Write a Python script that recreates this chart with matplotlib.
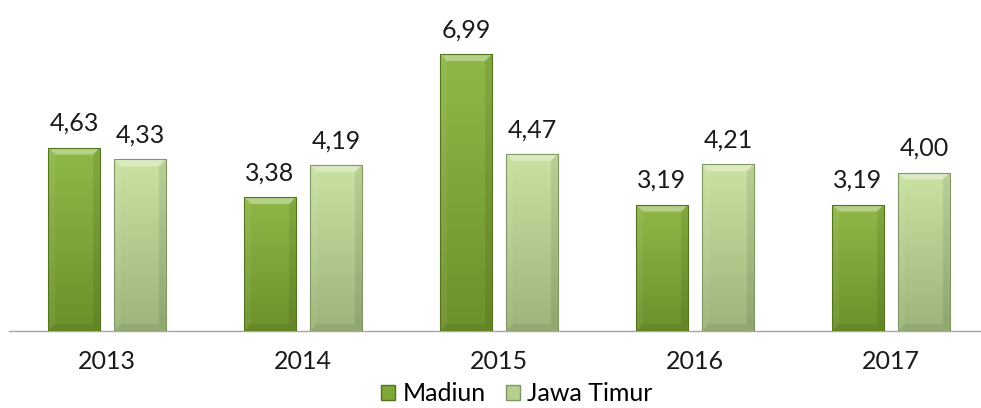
import matplotlib
matplotlib.use("Agg")
import matplotlib.pyplot as plt
import numpy as np
from matplotlib.patches import Polygon, Patch
from matplotlib.colors import LinearSegmentedColormap

years = ['2013', '2014', '2015', '2016', '2017']
madiun = [4.63, 3.38, 6.99, 3.19, 3.19]
jatim = [4.33, 4.19, 4.47, 4.21, 4.00]
labels = ['Madiun', 'Jawa Timur']

plt.rcParams['font.family'] = ['Lato', 'DejaVu Sans']
FS = 18

W, H = 981, 408
fig = plt.figure(figsize=(W / 100, H / 100), dpi=100)
ax = fig.add_axes([9 / W, 77 / H, 980 / W, 317 / H])
ax.set_xlim(-0.5, 4.5)
ax.set_ylim(0, 8.0)

x = np.arange(len(years))
bw = 0.265
off = 0.168

series = [
    (madiun, -off, ('#8fb848', '#6c902b'), '#55731f'),
    (jatim, off, ('#cae2a2', '#9cb47a'), '#7f9863'),
]

def to_data(px, py):
    return ax.transData.inverted().transform((px, py))

for vals, dx, (ctop, cbot), edge in series:
    bars = ax.bar(x + dx, vals, bw, color=cbot, edgecolor='none', zorder=2)
    cmap = LinearSegmentedColormap.from_list('g', [cbot, ctop])
    grad = np.linspace(0, 1, 256).reshape(-1, 1)
    for b, v in zip(bars, vals):
        x0, y0 = b.get_x(), b.get_y()
        x1, y1 = x0 + b.get_width(), y0 + b.get_height()
        im = ax.imshow(grad, extent=(x0, x1, y0, y1), origin='lower',
                       aspect='auto', cmap=cmap, zorder=3)
        im.set_clip_path(b)
        d0 = ax.transData.transform((x0, y0))
        d1 = ax.transData.transform((x1, y1))
        bp = 7
        p = lambda px, py: to_data(px, py)
        A = p(d0[0], d1[1]); B = p(d1[0], d1[1])
        C = p(d1[0] - bp, d1[1] - bp); D = p(d0[0] + bp, d1[1] - bp)
        E = p(d0[0], d0[1]); F = p(d1[0], d0[1])
        G = p(d1[0] - bp, d0[1] + bp); Hh = p(d0[0] + bp, d0[1] + bp)
        ax.add_patch(Polygon([A, B, C, D], closed=True, facecolor='white',
                             alpha=0.35, edgecolor='none', zorder=4))
        ax.add_patch(Polygon([A, D, Hh, E], closed=True, facecolor='white',
                             alpha=0.06, edgecolor='none', zorder=4))
        ax.add_patch(Polygon([B, C, G, F], closed=True, facecolor='black',
                             alpha=0.08, edgecolor='none', zorder=4))
        ax.add_patch(Polygon([E, Hh, G, F], closed=True, facecolor='black',
                             alpha=0.06, edgecolor='none', zorder=4))
        ax.add_patch(Polygon([E, A, B, F], closed=True, facecolor='none',
                             edgecolor=edge, linewidth=0.8, zorder=5))
        ax.annotate(f'{v:.2f}'.replace('.', ','), (b.get_x() + b.get_width() / 2, y1),
                    xytext=(0, 12), textcoords='offset points', ha='center',
                    va='baseline', fontsize=FS, color='#1a1a1a')

for s in ['top', 'right', 'left']:
    ax.spines[s].set_visible(False)
ax.spines['bottom'].set_color('#a6a6a6')
ax.spines['bottom'].set_linewidth(1.0)
ax.set_yticks([])
ax.set_xticks(x)
ax.set_xticklabels(years, fontsize=FS, color='#1a1a1a')
ax.tick_params(axis='x', length=0, pad=14)

handles = [Patch(facecolor='#7ea638', edgecolor='#55731f', label=labels[0]),
           Patch(facecolor='#b5cf8e', edgecolor='#7f9863', label=labels[1])]
fig.legend(handles=handles, loc='center', bbox_to_anchor=(0.527, 0.035), ncol=2,
           frameon=False, fontsize=FS, handlelength=0.55, handleheight=0.55,
           handletextpad=0.3, columnspacing=0.8, borderpad=0)

fig.savefig('out.png', dpi=100)
